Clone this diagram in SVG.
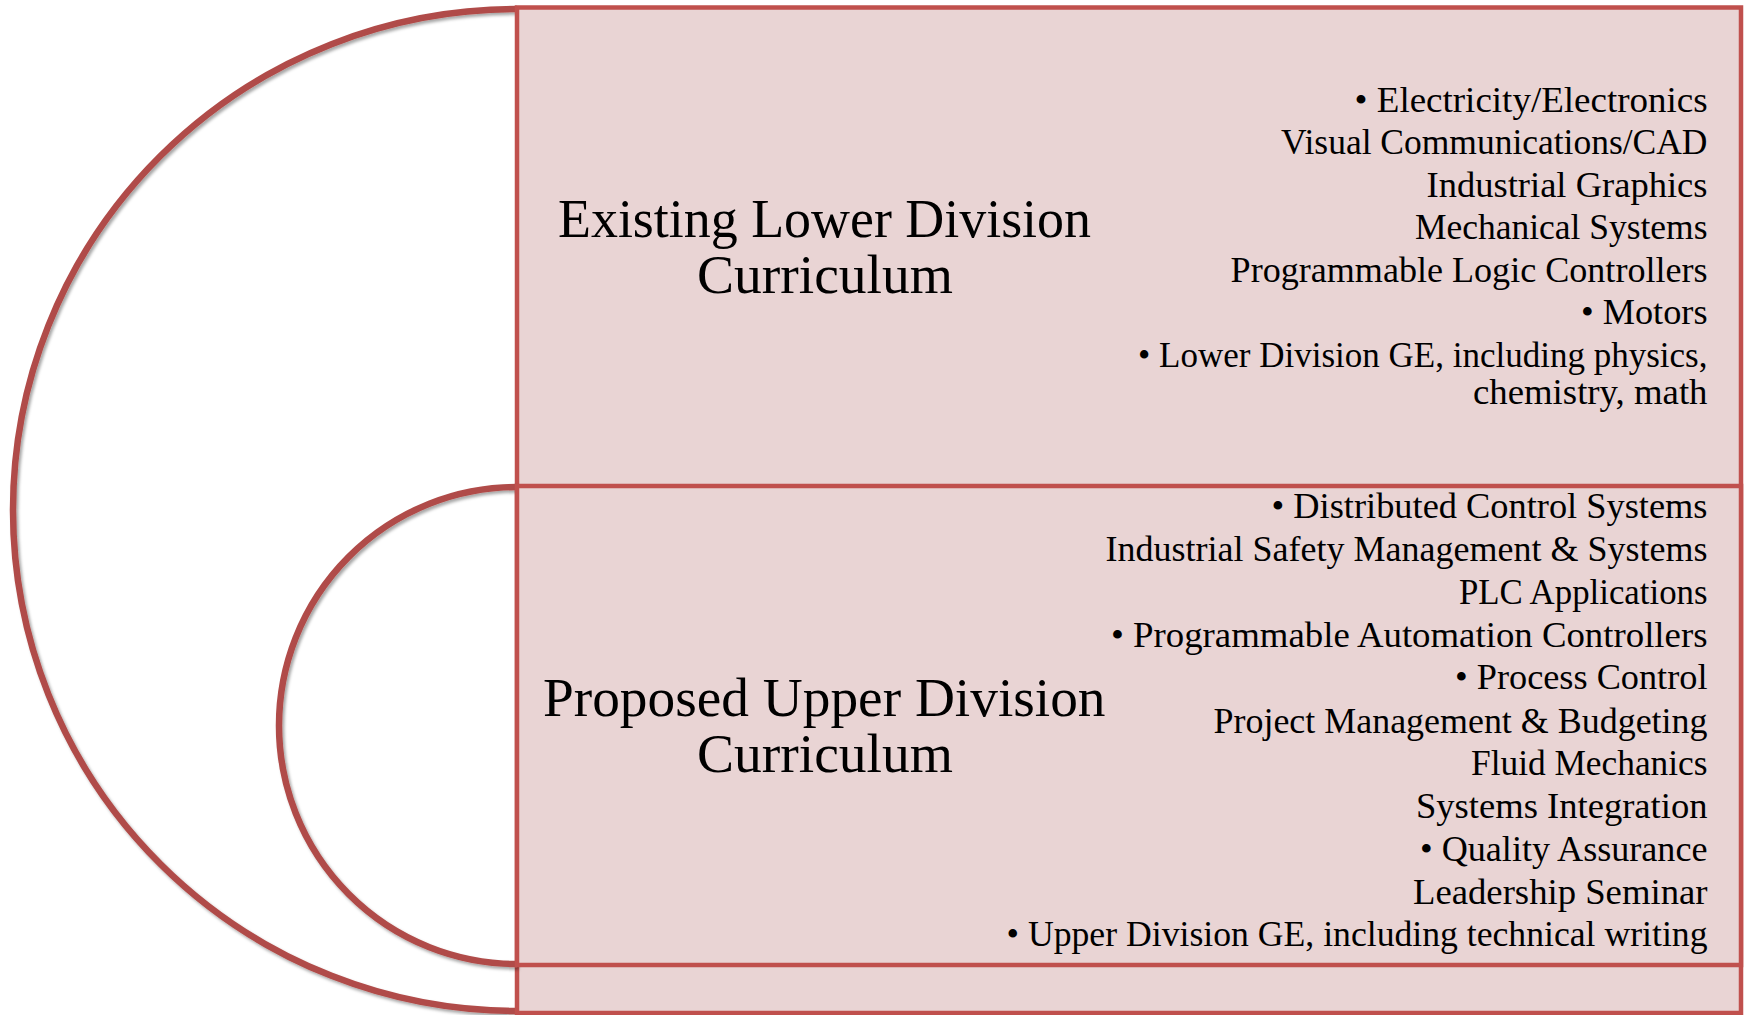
<svg xmlns="http://www.w3.org/2000/svg" width="1744" height="1015" viewBox="0 0 1744 1015">
  <defs>
    <filter id="shadow" x="-5%" y="-5%" width="110%" height="110%">
      <feDropShadow dx="2" dy="2.5" stdDeviation="1.6" flood-color="#000000" flood-opacity="0.35"/>
    </filter>
    <style>
      .arc { fill: none; stroke: #B04B48; stroke-width: 6.5; filter: url(#shadow); }
      .box { fill: #E9D4D4; stroke: #C0504D; stroke-width: 4.5; }
      .title { font-family: "Liberation Serif", "Times New Roman", serif; font-size: 55px; fill: #000000; }
      .item { font-family: "Liberation Serif", "Times New Roman", serif; font-size: 35px; fill: #000000; }
    </style>
  </defs>
  <rect x="0" y="0" width="1744" height="1015" fill="#FFFFFF"/>

  <g id="connectors"></g>

  <g id="node-existing-lower">
    <path class="arc" d="M517,9 A504,501 0 0 0 517,1011"/>
    <rect class="box" x="517" y="7.5" width="1224" height="1005.5"/>
    <text class="title" x="558" y="237" textLength="533" lengthAdjust="spacingAndGlyphs">Existing Lower Division</text>
    <text class="title" x="697" y="293" textLength="256" lengthAdjust="spacingAndGlyphs">Curriculum</text>
    <text class="item" x="1354.6" y="111.5" textLength="353" lengthAdjust="spacingAndGlyphs">• Electricity/Electronics</text>
    <text class="item" x="1281" y="154" textLength="426.5" lengthAdjust="spacingAndGlyphs">Visual Communications/CAD</text>
    <text class="item" x="1426.5" y="196.5" textLength="281" lengthAdjust="spacingAndGlyphs">Industrial Graphics</text>
    <text class="item" x="1415" y="239" textLength="292.5" lengthAdjust="spacingAndGlyphs">Mechanical Systems</text>
    <text class="item" x="1230.6" y="282" textLength="477" lengthAdjust="spacingAndGlyphs">Programmable Logic Controllers</text>
    <text class="item" x="1581" y="324" textLength="126.5" lengthAdjust="spacingAndGlyphs">• Motors</text>
    <text class="item" x="1138" y="367" textLength="569.5" lengthAdjust="spacingAndGlyphs">• Lower Division GE, including physics,</text>
    <text class="item" x="1473" y="403.5" textLength="234.5" lengthAdjust="spacingAndGlyphs">chemistry, math</text>
  </g>

  <g id="node-proposed-upper">
    <path class="arc" d="M517,487 A238,238.5 0 0 0 517,964"/>
    <rect class="box" x="517" y="486" width="1224" height="479"/>
    <text class="title" x="543" y="715.5" textLength="562.5" lengthAdjust="spacingAndGlyphs">Proposed Upper Division</text>
    <text class="title" x="697" y="771.5" textLength="256" lengthAdjust="spacingAndGlyphs">Curriculum</text>
    <text class="item" x="1271.5" y="518" textLength="436" lengthAdjust="spacingAndGlyphs">• Distributed Control Systems</text>
    <text class="item" x="1105.5" y="561" textLength="602" lengthAdjust="spacingAndGlyphs">Industrial Safety Management &amp; Systems</text>
    <text class="item" x="1459" y="604" textLength="248.5" lengthAdjust="spacingAndGlyphs">PLC Applications</text>
    <text class="item" x="1111" y="646.5" textLength="596.5" lengthAdjust="spacingAndGlyphs">• Programmable Automation Controllers</text>
    <text class="item" x="1455" y="689" textLength="252.5" lengthAdjust="spacingAndGlyphs">• Process Control</text>
    <text class="item" x="1213.5" y="732.5" textLength="494" lengthAdjust="spacingAndGlyphs">Project Management &amp; Budgeting</text>
    <text class="item" x="1471" y="775" textLength="236.5" lengthAdjust="spacingAndGlyphs">Fluid Mechanics</text>
    <text class="item" x="1416" y="817.5" textLength="291.5" lengthAdjust="spacingAndGlyphs">Systems Integration</text>
    <text class="item" x="1420" y="860.5" textLength="287.5" lengthAdjust="spacingAndGlyphs">• Quality Assurance</text>
    <text class="item" x="1413" y="903.5" textLength="294.5" lengthAdjust="spacingAndGlyphs">Leadership Seminar</text>
    <text class="item" x="1006.5" y="945.5" textLength="701" lengthAdjust="spacingAndGlyphs">• Upper Division GE, including technical writing</text>
  </g>
</svg>
